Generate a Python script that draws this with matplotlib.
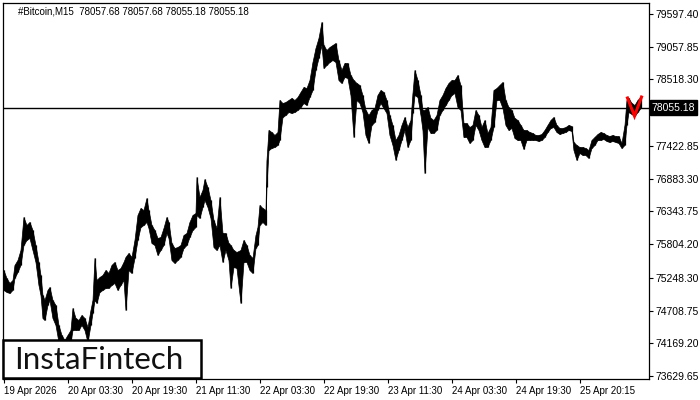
import matplotlib
matplotlib.use("Agg")
import matplotlib.pyplot as plt
from matplotlib.patches import Rectangle

# ---- data ----
bars = [0, 3, 6, 9, 11, 14, 17, 20, 23, 26,
        29, 32, 35, 37, 39, 41, 44, 46, 49, 52,
        55, 58, 61, 64, 67, 69, 72, 75, 78, 81,
        84, 87, 89, 91, 93, 96, 99, 102, 105, 108,
        111, 114, 117, 120, 122, 125, 128, 131, 134, 137,
        140, 143, 145, 148, 151, 154, 157, 160, 163, 165,
        168, 171, 174, 177, 180, 183, 186, 189, 192, 193,
        196, 199, 201, 204, 207, 210, 213, 216, 219, 222,
        225, 227, 230, 233, 237, 240, 243, 246, 249, 252,
        254, 256, 259, 262, 263, 265, 268, 271, 274, 276,
        279, 282, 285, 288, 291, 294, 297, 300, 303, 306,
        309, 312, 315, 318, 320, 323, 326, 329, 332, 335,
        338, 341, 344, 347, 350, 353, 356, 359, 362, 365,
        368, 371, 374, 377, 380, 383, 386, 389, 392, 395,
        398, 401, 404, 407, 409, 411, 414, 417, 419, 421,
        424, 427, 430, 433, 436, 439, 442, 445, 448, 451,
        454, 457, 460, 463, 466, 469, 472, 475, 478, 481,
        484, 487, 490, 493, 496, 499, 502, 505, 508, 511,
        514, 517, 520, 523, 526, 529, 532, 535, 538, 541,
        544, 547, 550, 553, 556, 559, 562, 565, 568, 570,
        573, 576, 579, 582, 585, 588, 591, 594, 597, 600,
        603, 606, 609, 612, 615, 618, 621, 623, 625, 628,
        631, 634, 637]

high = [75377, 75245, 75163, 75212, 75460, 75542, 75707, 76251, 76119, 76169,
        76037, 75789, 75509, 75295, 74965, 74883, 75048, 75097, 74883, 74800,
        74471, 74306, 74223, 74306, 74388, 74751, 74586, 74553, 74635, 74586,
        74438, 74718, 74883, 75575, 75212, 75262, 75295, 75377, 75328, 75460,
        75509, 75377, 75410, 75509, 75592, 75658, 75592, 75872, 76284, 76399,
        76366, 76564, 76366, 76119, 76037, 75905, 75921, 76070, 76251, 76169,
        75822, 75740, 75756, 75789, 75954, 75987, 76169, 76284, 76317, 76910,
        76581, 76696, 76877, 76746, 76531, 76202, 76070, 76581, 75987, 75987,
        75822, 75789, 75707, 75674, 75707, 75872, 75789, 75625, 75575, 75954,
        76086, 76449, 76399, 76366, 77191, 77685, 77652, 77603, 77652, 78180,
        78130, 78147, 78180, 78213, 78180, 78229, 78312, 78394, 78377, 78509,
        78806, 79037, 79202, 79466, 79086, 79004, 79053, 79086, 79119, 78839,
        78674, 78790, 78790, 78592, 78509, 78460, 78427, 78262, 78015, 77932,
        78015, 78048, 78262, 78344, 78312, 78180, 77932, 77768, 77520, 77603,
        77768, 77899, 77734, 77850, 78295, 78674, 78509, 78262, 78015, 78015,
        78064, 77883, 77850, 77932, 78180, 78262, 78377, 78460, 78509, 78509,
        78592, 78427, 77800, 77800, 77734, 77768, 78015, 77932, 77734, 77850,
        77636, 77734, 78344, 78377, 78427, 78476, 78180, 78064, 78015, 77883,
        77850, 77768, 77685, 77685, 77652, 77636, 77603, 77603, 77619, 77685,
        77768, 77850, 77899, 77768, 77718, 77718, 77734, 77768, 77751, 77487,
        77438, 77405, 77405, 77388, 77355, 77520, 77570, 77619, 77652, 77636,
        77603, 77586, 77603, 77586, 77586, 77471, 77768, 78180, 78213, 78130,
        78097, 78180, 78229]

low = [75048, 75015, 74998, 75048, 75245, 75344, 75460, 75789, 75872, 75905,
       75707, 75509, 75130, 74965, 74586, 74553, 74800, 74883, 74586, 74471,
       74190, 74058, 73976, 74058, 74190, 74388, 74388, 74388, 74471, 74388,
       74190, 74471, 74668, 74883, 74833, 75015, 75048, 75081, 75081, 75130,
       75163, 75048, 75130, 75212, 74718, 75377, 75328, 75575, 75872, 76086,
       76119, 76169, 76070, 75822, 75789, 75625, 75707, 75789, 75987, 75905,
       75542, 75493, 75542, 75592, 75740, 75789, 75921, 76037, 76086, 76284,
       76235, 76416, 76531, 76416, 76235, 75756, 75707, 75789, 75509, 75707,
       75542, 75081, 75427, 75410, 74833, 75509, 75509, 75377, 75328, 75740,
       75789, 76119, 76169, 76119, 76746, 77355, 77388, 77405, 77438, 77520,
       77899, 77932, 77982, 77965, 77982, 78015, 78064, 78130, 78097, 78229,
       78344, 78674, 78872, 79086, 78707, 78757, 78806, 78839, 78806, 78509,
       78460, 78559, 78542, 78262, 77570, 78180, 78130, 77982, 77603, 77471,
       77768, 77817, 78015, 78130, 78048, 77965, 77603, 77438, 77191, 77355,
       77520, 77685, 77405, 77520, 77965, 78262, 78229, 77932, 77685, 76976,
       77734, 77636, 77636, 77685, 77932, 78015, 78097, 78180, 78262, 78295,
       78064, 78015, 77570, 77570, 77471, 77520, 77768, 77685, 77520, 77405,
       77405, 77520, 77734, 78180, 78180, 78048, 77768, 77685, 77718, 77553,
       77520, 77520, 77372, 77520, 77520, 77520, 77520, 77504, 77520, 77570,
       77652, 77718, 77734, 77652, 77619, 77636, 77652, 77685, 77669, 77355,
       77191, 77306, 77273, 77273, 77224, 77388, 77438, 77520, 77520, 77537,
       77504, 77487, 77504, 77487, 77471, 77388, 77438, 77768, 77982, 77949,
       77916, 77982, 78048]

pattern_bars = [624, 631, 638]
pattern_prices = [78213, 77916, 78229]

last_price = 78055.18
header = "#Bitcoin,M15  78057.68 78057.68 78055.18 78055.18"

ytick_values = [79597.40, 79057.85, 78518.30, 77978.75, 77422.85, 76883.30,
                76343.75, 75804.20, 75248.30, 74708.75, 74169.20, 73629.65]
xtick_bars = [0, 64, 128, 192, 256, 320, 384, 448, 512, 576]
xtick_labels = ["19 Apr 2026", "20 Apr 03:30", "20 Apr 19:30", "21 Apr 11:30",
                "22 Apr 03:30", "22 Apr 19:30", "23 Apr 11:30", "24 Apr 03:30",
                "24 Apr 19:30", "25 Apr 20:15"]

# ---- figure ----
FONT = "Liberation Sans"
W, H = 700, 400
fig = plt.figure(figsize=(7, 4), dpi=100)
L, R, T, B = 3, 649, 3, 379
ax = fig.add_axes([L / W, 1 - B / H, (R - L) / W, (B - T) / H])

ax.fill_between(bars, low, high, color="black", linewidth=0.5, zorder=2)
ax.vlines(bars, low, high, color="black", linewidth=0.9, zorder=2)
ax.plot(pattern_bars, pattern_prices, color="#ff0000", linewidth=2.2,
        solid_joinstyle="miter", zorder=4)

ax.axhline(last_price, color="black", linewidth=1.0, zorder=3)

ax.set_xlim(-0.5, 645.5)
ax.set_ylim(73580.4, 79778.7)

ax.yaxis.tick_right()
ax.set_yticks(ytick_values)
ax.set_yticklabels([f"{v:.2f}" for v in ytick_values], family=FONT)
ax.tick_params(axis="y", direction="out", length=3, width=0.8, pad=1.5,
               labelsize=7.5, colors="black")
ax.set_xticks(xtick_bars)
ax.set_xticklabels(xtick_labels, ha="left", family=FONT)
ax.tick_params(axis="x", direction="out", length=3, width=0.8, pad=2,
               labelsize=7, colors="black")

for s in ax.spines.values():
    s.set_linewidth(0.9)
    s.set_color("black")

# last price label box
ax.text(1.0045, last_price, f"{last_price:.2f}", transform=ax.get_yaxis_transform(),
        ha="left", va="center", fontsize=7.5, family=FONT, color="white", zorder=10,
        bbox=dict(boxstyle="square,pad=0.2", facecolor="black", edgecolor="black"),
        clip_on=False)

# header
ax.text(15 / 646, 1 - 8 / 376, header, transform=ax.transAxes, ha="left",
        va="center", fontsize=7, family=FONT, color="black")

# logo box
ax.add_patch(Rectangle((0.0, 0.003), 198 / 646, 38 / 376, transform=ax.transAxes,
                       facecolor="white", edgecolor="black", linewidth=1.8,
                       zorder=20, clip_on=False))
ax.text(96 / 646, 19 / 376, "InstaFintech", transform=ax.transAxes,
        ha="center", va="center", fontsize=22.5, family="Lato", color="#111111",
        zorder=21)

fig.savefig("out.png", dpi=100)
